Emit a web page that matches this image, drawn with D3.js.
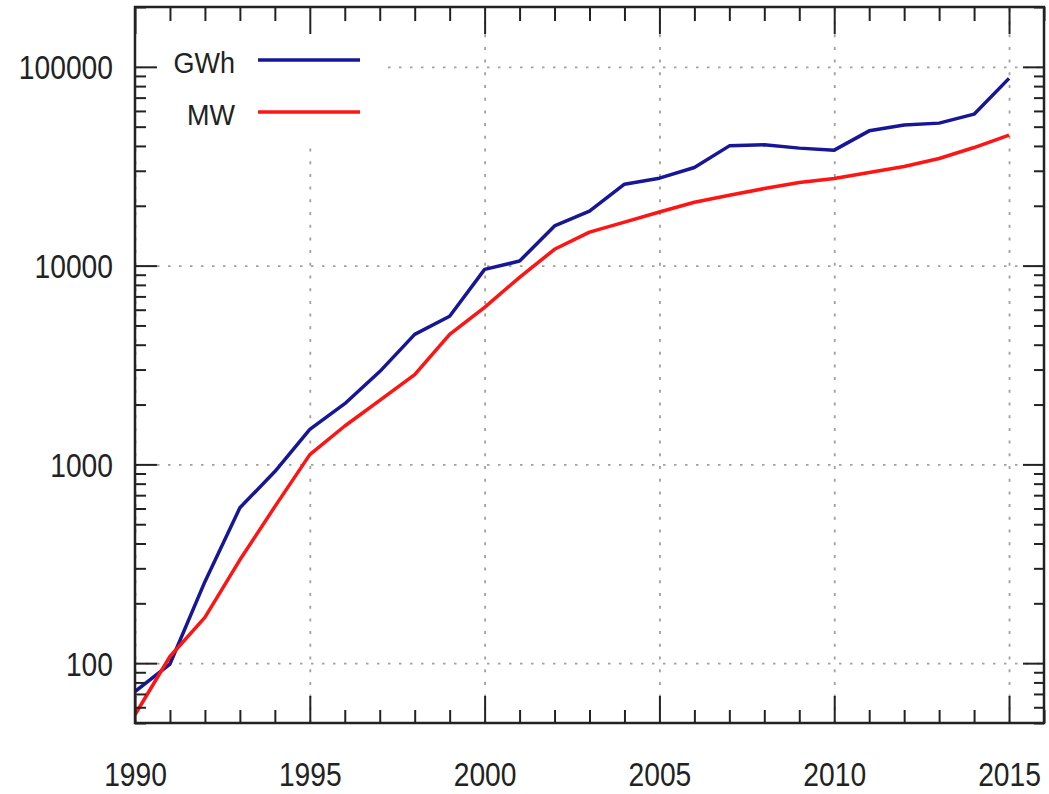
<!DOCTYPE html>
<html>
<head>
<meta charset="utf-8">
<script src="https://cdn.jsdelivr.net/npm/d3@7"></script>
<style>
  html, body { margin: 0; padding: 0; background: #fff; }
  svg { display: block; }
  text { font-family: "Liberation Sans", Arial, sans-serif; fill: #222; }
</style>
</head>
<body>
<svg id="chart" width="1049" height="794"></svg>
<script>
const years = [1990,1991,1992,1993,1994,1995,1996,1997,1998,1999,2000,2001,2002,2003,2004,2005,2006,2007,2008,2009,2010,2011,2012,2013,2014,2015];
const gwh = [72,99,257,605,920,1500,2020,2930,4510,5560,9570,10540,15830,18780,25680,27540,31170,40030,40500,39000,38100,47640,50930,52100,57800,87500];
const mw  = [55,108,170,331,613,1120,1560,2100,2830,4510,6170,8730,12080,14730,16560,18620,20840,22580,24410,26190,27420,29400,31550,34600,39270,45300];
const seriesNames = ["GWh", "MW"];
const xMajorTicks = [1990,1995,2000,2005,2010,2015];
const yMajorTicks = [100,1000,10000,100000];

const svg = d3.select("#chart");
const L = 135, R = 1044, T = 7, B = 723;
const x = d3.scaleLinear().domain([1990, 2016]).range([L, R]);
const y = d3.scaleLog().domain([50, 200000]).range([B, T]);

const xMinor = d3.range(1990, 2017).filter(v => v % 5 !== 0);
const yMinor = [];
for (let e = 1; e <= 5; e++) for (let m = 2; m <= 9; m++) {
  const v = m * Math.pow(10, e);
  if (v >= 50 && v <= 200000) yMinor.push(v);
}

// grid
const gGrid = svg.append("g");
gGrid.append("g").attr("transform", `translate(${L},0)`)
  .call(d3.axisLeft(y).tickValues(yMajorTicks).tickSize(-(R - L)).tickFormat(""))
  .call(g => g.select(".domain").remove())
  .selectAll("line").attr("stroke", "#a0a0a0").attr("stroke-width", 1.8).attr("stroke-dasharray", "2.5,8.5");
gGrid.append("g").attr("transform", `translate(0,${B})`)
  .call(d3.axisBottom(x).tickValues(xMajorTicks).tickSize(-(B - T)).tickFormat(""))
  .call(g => g.select(".domain").remove())
  .selectAll("line").attr("stroke", "#a0a0a0").attr("stroke-width", 1.8).attr("stroke-dasharray", "3,9.7");

// legend background
svg.append("rect").attr("x", L + 1).attr("y", T + 1).attr("width", 246).attr("height", 137).attr("fill", "#fff");

// lines
svg.append("clipPath").attr("id", "clip").append("rect")
  .attr("x", L).attr("y", T).attr("width", R - L).attr("height", B - T);
const line = d3.line().x((d, i) => x(years[i])).y(d => y(d));
const colors = ["#161696", "#ff1414"];
[gwh, mw].forEach((s, k) => {
  svg.append("path").datum(s).attr("clip-path", "url(#clip)")
    .attr("fill", "none").attr("stroke", colors[k]).attr("stroke-width", 3.5)
    .attr("stroke-linejoin", "round").attr("d", line);
});

// axes ticks
const tickStyle = g => { g.select(".domain").remove(); g.selectAll("line").attr("stroke", "#222").attr("stroke-width", 2); };
// left
svg.append("g").attr("transform", `translate(${L},0)`)
  .call(d3.axisLeft(y).tickValues(yMinor).tickSize(-11).tickFormat("")).call(tickStyle);
const yAx = svg.append("g").attr("transform", `translate(${L},0)`)
  .call(d3.axisLeft(y).tickValues(yMajorTicks).tickSize(-22).tickPadding(22).tickFormat(d3.format("d")));
yAx.call(tickStyle);
yAx.selectAll("text").attr("x", null).attr("dy", null)
  .attr("transform", "translate(-22,12) scale(0.83,1)")
  .attr("font-size", "34px").attr("text-anchor", "end").style("font-family", "'Liberation Sans', Arial, sans-serif").attr("fill", "#222");
// right
svg.append("g").attr("transform", `translate(${R},0)`)
  .call(d3.axisRight(y).tickValues(yMinor).tickSize(-10).tickFormat("")).call(tickStyle);
svg.append("g").attr("transform", `translate(${R},0)`)
  .call(d3.axisRight(y).tickValues(yMajorTicks).tickSize(-21).tickFormat("")).call(tickStyle);
// bottom
svg.append("g").attr("transform", `translate(0,${B})`)
  .call(d3.axisBottom(x).tickValues(xMinor).tickSize(-13).tickFormat("")).call(tickStyle);
const xAx = svg.append("g").attr("transform", `translate(0,${B})`)
  .call(d3.axisBottom(x).tickValues(xMajorTicks).tickSize(-27).tickFormat(d3.format("d")));
xAx.call(tickStyle);
xAx.selectAll("text").attr("y", null).attr("dy", null)
  .attr("transform", "translate(0,63) scale(0.83,1)")
  .attr("font-size", "34px").attr("text-anchor", "middle").style("font-family", "'Liberation Sans', Arial, sans-serif").attr("fill", "#222");
// top
svg.append("g").attr("transform", `translate(0,${T})`)
  .call(d3.axisTop(x).tickValues(xMinor).tickSize(-14).tickFormat("")).call(tickStyle);
svg.append("g").attr("transform", `translate(0,${T})`)
  .call(d3.axisTop(x).tickValues(xMajorTicks).tickSize(-27).tickFormat("")).call(tickStyle);

// frame
svg.append("rect").attr("x", L).attr("y", T).attr("width", R - L).attr("height", B - T)
  .attr("fill", "none").attr("stroke", "#222").attr("stroke-width", 2.5);

// legend
const legY = [60, 112];
seriesNames.forEach((n, k) => {
  svg.append("text").attr("transform", `translate(235,${legY[k] + 13}) scale(0.9,1)`)
    .attr("text-anchor", "end").attr("font-size", "30px").text(n);
  svg.append("line").attr("x1", 258).attr("x2", 360).attr("y1", legY[k]).attr("y2", legY[k])
    .attr("stroke", colors[k]).attr("stroke-width", 3.5);
});
</script>
</body>
</html>
